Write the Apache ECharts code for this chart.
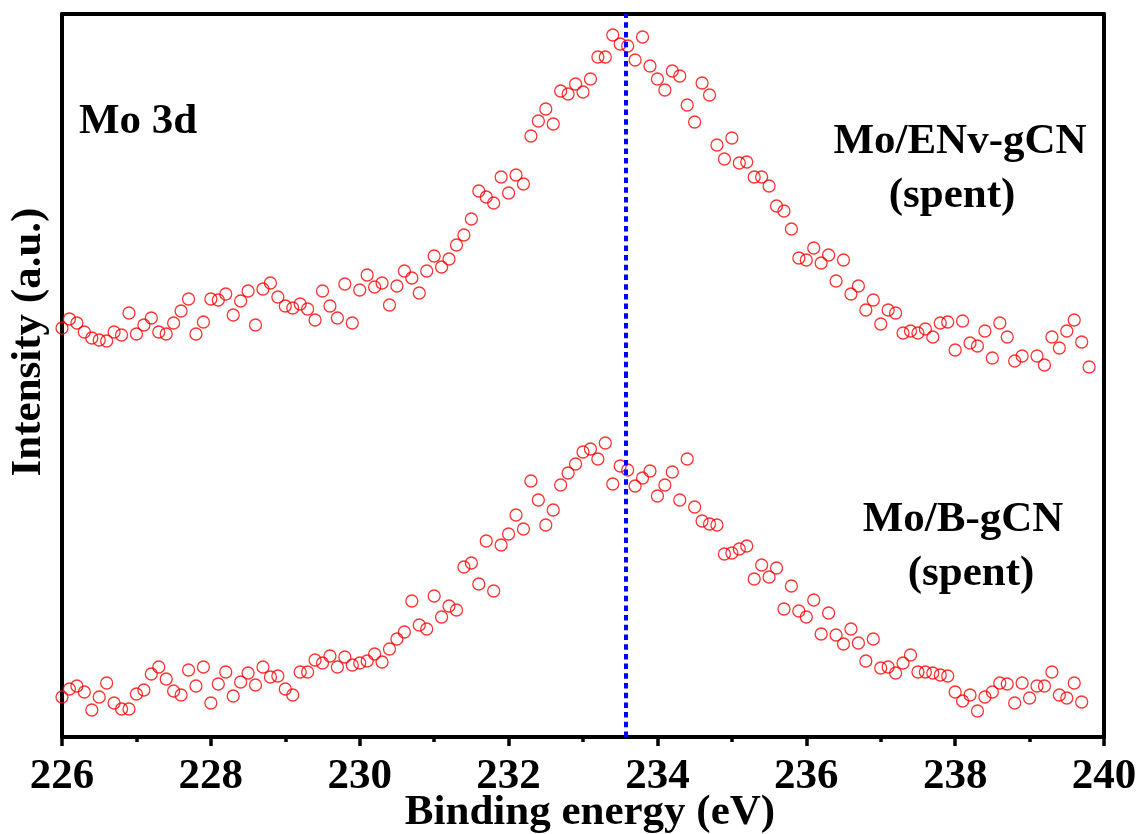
<!DOCTYPE html>
<html>
<head>
<meta charset="utf-8">
<script src="https://cdn.jsdelivr.net/npm/echarts@6/dist/echarts.min.js"></script>
<style>
html,body{margin:0;padding:0;background:#fff;}
#chart{width:1138px;height:834px;}
</style>
</head>
<body>
<div id="chart"></div>
<script>
// Binding energy sampling: first point and step (eV)
const energyStart = 226.0;
const energyStep = 0.1;

// Mo/ENv-gCN (spent), intensity (a.u., offset trace)
const envIntensity = [
  409,418,414,405,399,397,396,405,402,424,
  403,412,419,405,403,414,426,438,403,415,
  438,437,443,422,436,446,412,448,454,440,
  431,429,433,428,417,446,431,419,453,414,
  447,462,450,454,432,451,466,459,444,466,
  481,470,478,492,502,518,546,540,534,560,
  544,562,553,601,616,628,613,646,643,653,
  645,658,680,680,702,693,691,677,700,671,
  658,647,666,661,632,615,654,642,592,578,
  599,574,575,560,560,551,531,526,508,479,
  477,489,474,482,456,477,443,451,427,437,
  413,427,424,404,406,404,408,400,414,415,
  387,416,394,391,406,379,414,400,376,381,
  358,381,372,400,389,406,417,395,370
];

// Mo/B-gCN (spent), intensity (a.u.)
const bIntensity = [
  40,48,51,45,27,40,54,34,28,28,
  43,47,63,70,58,46,42,67,51,70,
  34,53,65,41,55,64,52,70,60,61,
  48,42,65,65,77,74,81,70,80,72,
  74,76,83,75,88,98,105,136,112,108,
  141,120,131,127,170,174,153,196,146,192,
  203,222,208,256,237,212,227,252,264,273,
  285,288,278,294,253,271,267,251,259,266,
  241,252,265,237,278,230,216,213,212,183,
  184,188,191,158,172,160,169,128,151,126,
  120,137,103,124,102,93,108,94,76,98,
  69,70,64,74,82,65,65,64,62,61,
  45,36,42,26,40,45,54,53,34,54,
  39,51,51,65,42,39,54,35
];

const xTicks = [226, 228, 230, 232, 234, 236, 238, 240];
const refLineEnergy = 233.57;
const panelSplit = 360;   // intensity where the two stacked panels meet
const topMax = 723;

const toPoints = arr => arr.map((v, i) => [+(energyStart + i * energyStep).toFixed(2), v]);

const FONT = 'Liberation Serif';
const RED = '#ff0000';
const AXIS_W = 4;

const chart = echarts.init(document.getElementById('chart'), null, {renderer: 'canvas'});

const hiddenAxisBits = {
  axisTick: {show: false},
  axisLabel: {show: false},
  splitLine: {show: false}
};

const option = {
  backgroundColor: '#fff',
  animation: false,
  grid: [
    {left: 62, right: 34, top: 14, height: 363, outerBoundsMode: 'none', containLabel: false},
    {left: 62, right: 34, top: 377, height: 360, outerBoundsMode: 'none', containLabel: false}
  ],
  xAxis: [
    Object.assign({
      gridIndex: 0, type: 'value', position: 'top', min: 226, max: 240, interval: 2,
      axisLine: {show: true, onZero: false, lineStyle: {color: '#000', width: AXIS_W}}
    }, hiddenAxisBits),
    {
      gridIndex: 1, type: 'value', position: 'bottom', min: 226, max: 240, interval: 2,
      axisLine: {show: true, onZero: false, lineStyle: {color: '#000', width: AXIS_W}},
      axisTick: {show: true, inside: false, length: 9, lineStyle: {color: '#000', width: 3.5}},
      minorTick: {show: true, splitNumber: 2, length: 5, lineStyle: {color: '#000', width: 3.5}},
      axisLabel: {
        show: true, color: '#000', fontFamily: FONT, fontWeight: 'bold', fontSize: 43, margin: 18,
        formatter: v => (xTicks.indexOf(v) >= 0 ? String(v) : '')
      },
      splitLine: {show: false},
      name: 'Binding energy (eV)',
      nameLocation: 'middle',
      nameGap: 54,
      nameMoveOverlap: false,
      nameTextStyle: {color: '#000', fontFamily: FONT, fontWeight: 'bold', fontSize: 43, padding: [0, 0, 0, 14]}
    }
  ],
  yAxis: [
    Object.assign({gridIndex: 0, type: 'value', position: 'left', min: panelSplit, max: topMax,
      axisLine: {show: true, onZero: false, lineStyle: {color: '#000', width: AXIS_W}}}, hiddenAxisBits),
    Object.assign({gridIndex: 0, type: 'value', position: 'right', min: panelSplit, max: topMax,
      axisLine: {show: true, onZero: false, lineStyle: {color: '#000', width: AXIS_W}}}, hiddenAxisBits),
    Object.assign({gridIndex: 1, type: 'value', position: 'left', min: 0, max: panelSplit,
      axisLine: {show: true, onZero: false, lineStyle: {color: '#000', width: AXIS_W}}}, hiddenAxisBits),
    Object.assign({gridIndex: 1, type: 'value', position: 'right', min: 0, max: panelSplit,
      axisLine: {show: true, onZero: false, lineStyle: {color: '#000', width: AXIS_W}}}, hiddenAxisBits)
  ],
  series: [
    {
      name: 'Mo/ENv-gCN (spent)', type: 'scatter', xAxisIndex: 0, yAxisIndex: 0,
      data: toPoints(envIntensity), symbol: 'circle', symbolSize: 12,
      itemStyle: {color: 'rgba(255,255,255,0)', borderColor: RED, borderWidth: 1.3},
      markLine: {
        silent: true, symbol: 'none', label: {show: false},
        lineStyle: {color: '#0000ff', width: 4, type: [5.5, 4.2]},
        data: [{xAxis: refLineEnergy}]
      }
    },
    {
      name: 'Mo/B-gCN (spent)', type: 'scatter', xAxisIndex: 1, yAxisIndex: 2,
      data: toPoints(bIntensity), symbol: 'circle', symbolSize: 12,
      itemStyle: {color: 'rgba(255,255,255,0)', borderColor: RED, borderWidth: 1.3},
      markLine: {
        silent: true, symbol: 'none', label: {show: false},
        lineStyle: {color: '#0000ff', width: 4, type: [5.5, 4.2]},
        data: [{xAxis: refLineEnergy}]
      }
    }
  ],
  graphic: [
    {type: 'text', x: 79, y: 122, style: {text: 'Mo 3d', font: 'bold 43px "' + FONT + '"', fill: '#000', align: 'left', verticalAlign: 'middle'}},
    {type: 'text', x: 960, y: 142, style: {text: 'Mo/ENv-gCN', font: 'bold 43px "' + FONT + '"', fill: '#000', align: 'center', verticalAlign: 'middle'}},
    {type: 'text', x: 952, y: 196, style: {text: '(spent)', font: 'bold 43px "' + FONT + '"', fill: '#000', align: 'center', verticalAlign: 'middle'}},
    {type: 'text', x: 963, y: 520, style: {text: 'Mo/B-gCN', font: 'bold 43px "' + FONT + '"', fill: '#000', align: 'center', verticalAlign: 'middle'}},
    {type: 'text', x: 971, y: 574, style: {text: '(spent)', font: 'bold 43px "' + FONT + '"', fill: '#000', align: 'center', verticalAlign: 'middle'}},
    {type: 'text', x: 29, y: 342, rotation: Math.PI / 2, style: {text: 'Intensity (a.u.)', font: 'bold 43px "' + FONT + '"', fill: '#000', align: 'center', verticalAlign: 'middle'}}
  ]
};

chart.setOption(option);
</script>
</body>
</html>
